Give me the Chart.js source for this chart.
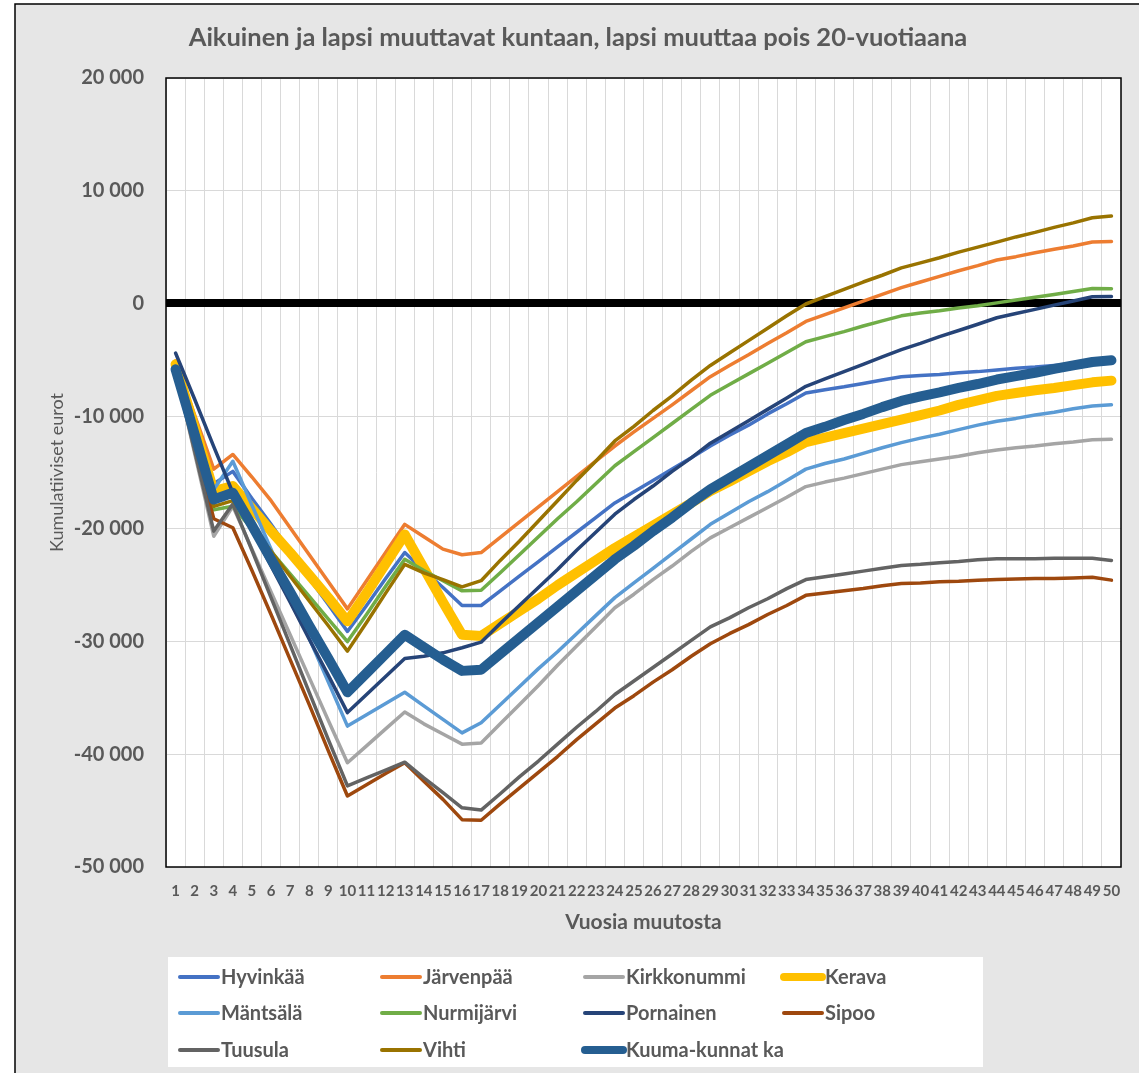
<!DOCTYPE html>
<html>
<head>
<title>Aikuinen ja lapsi muuttavat kuntaan</title>
<style>
html, body {
	margin: 0;
	padding: 0;
	background: #fff;
}
#chart-container {
	width: 1139px;
	height: 1073px;
}
</style>
</head>
<body>
<div id="chart-container"><canvas id="chart" width="1139" height="1073"></canvas></div>
<script src="https://cdn.jsdelivr.net/npm/chart.js@4.4.1/dist/chart.umd.min.js"></script>
<script>
	// x axis categories: years since moving
	var years = ['1','2','3','4','5','6','7','8','9','10','11','12','13','14','15','16','17','18','19','20',
		'21','22','23','24','25','26','27','28','29','30','31','32','33','34','35','36','37','38','39','40',
		'41','42','43','44','45','46','47','48','49','50'];

	var seriesNames = ['Hyvinkää', 'Järvenpää', 'Kirkkonummi', 'Kerava', 'Mäntsälä', 'Nurmijärvi',
		'Pornainen', 'Sipoo', 'Tuusula', 'Vihti', 'Kuuma-kunnat ka'];

	// cumulative euros
	var hyvinkaa = [-5700,-10900,-16000,-14900,-17300,-19600,-22000,-24400,-26700,-29100,
		-26800,-24400,-22100,-23700,-25200,-26800,-26800,-25500,-24200,-22900,
		-21600,-20300,-19000,-17700,-16700,-15700,-14700,-13700,-12650,-11700,
		-10800,-9800,-8900,-7950,-7650,-7400,-7100,-6800,-6500,-6400,
		-6300,-6150,-6050,-5900,-5750,-5650,-5500,-5400,-5250,-5150];
	var jarvenpaa = [-5100,-9900,-14700,-13400,-15400,-17500,-19900,-22300,-24700,-27100,
		-24600,-22100,-19600,-20700,-21800,-22300,-22100,-20750,-19400,-18050,
		-16700,-15350,-14000,-12650,-11400,-10200,-9000,-7750,-6500,-5500,
		-4550,-3550,-2600,-1600,-1000,-400,200,800,1400,1900,
		2400,2900,3350,3850,4150,4500,4800,5100,5450,5500];
	var kirkkonummi = [-5900,-13300,-20650,-18000,-21800,-25600,-29400,-33200,-37000,-40750,
		-39250,-37750,-36250,-37300,-38200,-39100,-39000,-37300,-35600,-33900,
		-32100,-30400,-28700,-27000,-25800,-24500,-23300,-22000,-20800,-19900,
		-19000,-18100,-17200,-16250,-15850,-15500,-15100,-14700,-14300,-14050,
		-13800,-13550,-13250,-13000,-12800,-12650,-12450,-12300,-12100,-12050];
	var kerava = [-5400,-11000,-16650,-16200,-18200,-20200,-22100,-24100,-26100,-28200,
		-25700,-23100,-20500,-23500,-26500,-29400,-29500,-28400,-27300,-26200,
		-25000,-23900,-22800,-21700,-20700,-19700,-18700,-17700,-16650,-15800,
		-14900,-14000,-13200,-12300,-11900,-11500,-11100,-10700,-10300,-9900,
		-9500,-9000,-8600,-8200,-7950,-7700,-7500,-7250,-7000,-6850];
	var mantsala = [-5700,-11100,-16500,-14000,-17900,-21800,-25800,-29700,-33600,-37500,
		-36500,-35500,-34500,-35700,-36900,-38100,-37200,-35600,-34000,-32400,
		-30900,-29300,-27700,-26100,-24800,-23500,-22200,-20900,-19600,-18600,
		-17600,-16700,-15700,-14700,-14200,-13800,-13300,-12800,-12350,-11950,
		-11600,-11200,-10800,-10450,-10200,-9900,-9650,-9350,-9100,-9000];
	var nurmijarvi = [-5800,-12000,-18300,-18000,-20000,-22000,-24000,-26000,-28000,-30000,
		-27600,-25100,-22700,-23700,-24600,-25500,-25450,-23900,-22300,-20700,
		-19100,-17600,-16000,-14400,-13150,-11900,-10650,-9400,-8150,-7200,
		-6250,-5300,-4350,-3400,-2950,-2500,-2000,-1550,-1100,-850,
		-650,-400,-200,50,300,550,800,1050,1330,1300];
	var pornainen = [-4400,-8500,-12700,-16800,-20000,-23300,-26500,-29800,-33000,-36300,
		-34700,-33100,-31500,-31300,-31000,-30550,-30050,-28400,-26800,-25200,
		-23600,-21900,-20300,-18700,-17400,-16200,-14900,-13700,-12400,-11400,
		-10400,-9400,-8400,-7350,-6700,-6050,-5400,-4750,-4100,-3550,
		-2950,-2400,-1850,-1270,-900,-530,-150,220,590,620];
	var sipoo = [-5900,-12500,-19100,-19900,-23700,-27600,-31600,-35600,-39700,-43700,
		-42700,-41700,-40750,-42400,-44000,-45800,-45850,-44400,-43000,-41600,
		-40200,-38700,-37300,-35900,-34800,-33600,-32500,-31300,-30200,-29300,
		-28500,-27600,-26800,-25900,-25700,-25500,-25300,-25050,-24850,-24800,
		-24700,-24650,-24550,-24500,-24450,-24400,-24400,-24350,-24300,-24550];
	var tuusula = [-6000,-13100,-20200,-17800,-21900,-26100,-30300,-34500,-38700,-42800,
		-42100,-41400,-40700,-42100,-43400,-44750,-44950,-43500,-42000,-40600,
		-39100,-37600,-36200,-34700,-33500,-32300,-31100,-29900,-28700,-27900,
		-27000,-26200,-25300,-24500,-24250,-24000,-23750,-23500,-23250,-23150,
		-23000,-22900,-22750,-22650,-22650,-22650,-22600,-22600,-22600,-22800];
	var vihti = [-5800,-11900,-18000,-17500,-19700,-22000,-24200,-26400,-28600,-30850,
		-28300,-25700,-23150,-23900,-24500,-25150,-24600,-22800,-21100,-19300,
		-17500,-15700,-14000,-12200,-10900,-9500,-8200,-6800,-5500,-4400,
		-3300,-2200,-1100,-50,600,1250,1900,2500,3150,3600,
		4050,4550,5000,5440,5900,6300,6750,7150,7600,7750];
	var kuuma = [-5850,-11600,-17400,-16800,-19700,-22700,-25600,-28600,-31500,-34500,
		-32800,-31100,-29400,-30500,-31600,-32600,-32500,-31100,-29700,-28300,
		-26900,-25500,-24100,-22700,-21500,-20200,-19000,-17700,-16500,-15500,
		-14500,-13500,-12500,-11500,-10950,-10350,-9800,-9200,-8650,-8250,
		-7900,-7500,-7150,-6750,-6450,-6150,-5800,-5500,-5200,-5050];

	var yTicks = [20000, 10000, 0, -10000, -20000, -30000, -40000, -50000];

	var seriesValues = [hyvinkaa, jarvenpaa, kirkkonummi, kerava, mantsala, nurmijarvi,
		pornainen, sipoo, tuusula, vihti, kuuma];
	var seriesColors = ['#4472C4', '#ED7D31', '#A5A5A5', '#FFC000', '#5B9BD5', '#70AD47',
		'#264478', '#9E480E', '#636363', '#997300', '#255E91'];
	var seriesWidths = [3.5, 3.5, 3.5, 10, 3.5, 3.5, 3.5, 3.5, 3.5, 3.5, 10];

	var chartTitle = 'Aikuinen ja lapsi muuttavat kuntaan, lapsi muuttaa pois 20-vuotiaana';
	var textColor = '#595959';
	var fontFamily = 'Lato, "Liberation Sans", Arial, sans-serif';

	function formatThousands(v) {
		var s = Math.abs(v).toString().replace(/\B(?=(\d{3})+(?!\d))/g, ' ');
		return (v < 0 ? '-' : '') + s;
	}

	var datasets = [];
	for (var i = 0; i < seriesNames.length; i++) {
		datasets.push({
			label: seriesNames[i],
			data: seriesValues[i],
			borderColor: seriesColors[i],
			backgroundColor: seriesColors[i],
			borderWidth: seriesWidths[i],
			pointRadius: 0,
			tension: 0,
			fill: false,
			borderCapStyle: 'round',
			borderJoinStyle: 'round',
			order: seriesNames.length - i // later series on top, like Excel
		});
	}

	// grey chart area, white plot area, frame and title
	var background = {
		id: 'background',
		beforeDraw: function(chart) {
			var ctx = chart.ctx, a = chart.chartArea;
			ctx.save();
			ctx.fillStyle = '#fff';
			ctx.fillRect(0, 0, chart.width, chart.height);
			ctx.fillStyle = '#e6e6e6';
			ctx.fillRect(15, 4, chart.width - 15, chart.height - 4);
			ctx.strokeStyle = '#000';
			ctx.lineWidth = 1.5;
			ctx.beginPath();
			ctx.moveTo(15, chart.height);
			ctx.lineTo(15, 4);
			ctx.lineTo(chart.width, 4);
			ctx.stroke();
			ctx.fillStyle = '#fff';
			ctx.fillRect(a.left, a.top, a.right - a.left, a.bottom - a.top);
			// title, centred on the grey area like in Excel
			ctx.fillStyle = textColor;
			ctx.font = 'bold 25.5px ' + fontFamily;
			ctx.textAlign = 'center';
			ctx.textBaseline = 'middle';
			ctx.fillText(chartTitle, 578, 38);
			ctx.restore();
		},
		beforeDatasetsDraw: function(chart) {
			var ctx = chart.ctx, a = chart.chartArea;
			ctx.save();
			ctx.strokeStyle = '#000';
			ctx.lineWidth = 1.5;
			ctx.strokeRect(a.left, a.top, a.right - a.left, a.bottom - a.top);
			ctx.restore();
		}
	};

	// legend in a 4 column grid, like the original
	var gridLegend = {
		id: 'gridLegend',
		afterDraw: function(chart) {
			var ctx = chart.ctx;
			var colX = [178, 380, 583, 782];
			var rowY = [977, 1013, 1050];
			ctx.save();
			ctx.fillStyle = '#fff';
			ctx.fillRect(168, 957, 815, 110);
			ctx.font = 'bold 20px ' + fontFamily;
			ctx.textBaseline = 'middle';
			ctx.textAlign = 'left';
			chart.data.datasets.forEach(function(ds, idx) {
				var x = colX[idx % 4], y = rowY[Math.floor(idx / 4)];
				ctx.strokeStyle = ds.borderColor;
				ctx.lineWidth = ds.borderWidth > 5 ? 8 : 4;
				ctx.lineCap = 'round';
				ctx.beginPath();
				ctx.moveTo(x + 2, y);
				ctx.lineTo(x + 40, y);
				ctx.stroke();
				ctx.fillStyle = textColor;
				ctx.fillText(ds.label, x + 43, y + 1);
			});
			ctx.restore();
		}
	};

	var chart = new Chart(document.getElementById('chart'), {
		type: 'line',
		data: {
			labels: years,
			datasets: datasets
		},
		options: {
			responsive: false,
			animation: false,
			devicePixelRatio: 1,
			layout: {
				padding: { left: 15, right: 18, top: 78, bottom: 136 }
			},
			plugins: {
				legend: { display: false },
				tooltip: { enabled: false },
				title: { display: false }
			},
			scales: {
				x: {
					type: 'category',
					offset: true,
					grid: {
						offset: true,
						color: '#d9d9d9',
						lineWidth: 1,
						drawTicks: false
					},
					border: { display: false },
					ticks: {
						autoSkip: false,
						maxRotation: 0,
						minRotation: 0,
						padding: 15,
						color: textColor,
						font: { family: fontFamily, size: 15, weight: 'bold' }
					},
					title: {
						display: true,
						text: 'Vuosia muutosta',
						color: textColor,
						font: { family: fontFamily, size: 21, weight: 'bold' },
						padding: { top: 2, bottom: 2 }
					},
					afterFit: function(scale) {
						scale.height = 70;
					}
				},
				y: {
					min: -50000,
					max: 20000,
					grid: {
						color: function(c) { return c.tick && c.tick.value === 0 ? '#000' : '#d9d9d9'; },
						lineWidth: function(c) { return c.tick && c.tick.value === 0 ? 8 : 1; },
						drawTicks: false
					},
					border: { display: false },
					afterBuildTicks: function(scale) {
						scale.ticks = yTicks.map(function(v) { return { value: v }; });
					},
					ticks: {
						padding: 22,
						color: textColor,
						font: { family: fontFamily, size: 20, weight: 'bold' },
						callback: function(v) { return formatThousands(v); }
					},
					title: {
						display: true,
						text: 'Kumulatiiviset eurot',
						color: textColor,
						font: { family: fontFamily, size: 18 },
						padding: { top: 31, bottom: 0 }
					},
					afterFit: function(scale) {
						scale.width = 151;
					}
				}
			}
		},
		plugins: [background, gridLegend]
	});
</script>
</body>
</html>
